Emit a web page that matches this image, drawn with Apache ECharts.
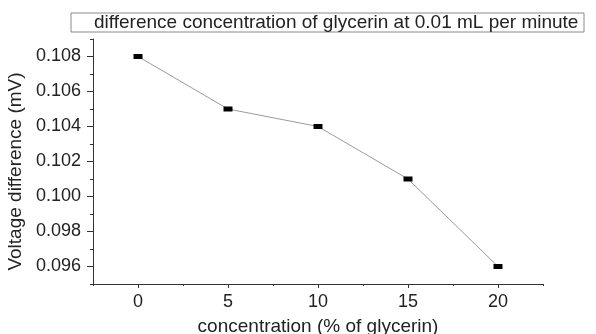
<!DOCTYPE html>
<html>
<head>
    <meta charset="UTF-8">
    <title>difference concentration of glycerin</title>
    <script src="https://cdn.jsdelivr.net/npm/echarts@6/dist/echarts.min.js"></script>
    <style>
        html, body { margin: 0; padding: 0; background: #fff; }
        #main { width: 596px; height: 334px; }
    </style>
</head>
<body>
    <div id="main"></div>
    <script type="text/javascript">
        // data
        var concentration = [0, 5, 10, 15, 20];
        var voltageDiff = [0.108, 0.105, 0.104, 0.101, 0.096];

        // ticks
        var xMajor = [0, 5, 10, 15, 20];
        var xMinor = [-2.5, 2.5, 7.5, 12.5, 17.5, 22.5];
        var yMajor = [0.096, 0.098, 0.100, 0.102, 0.104, 0.106, 0.108];
        var yMinor = [0.095, 0.097, 0.099, 0.101, 0.103, 0.105, 0.107, 0.109];

        var font = 'Liberation Sans, Arial, sans-serif';
        var ink = '#222';
        var axisColor = '#333';

        var chart = echarts.init(document.getElementById('main'));

        var option = {
            animation: false,
            title: {
                text: 'difference concentration of glycerin at 0.01 mL per minute',
                left: 94,
                top: 13,
                padding: 0,
                textStyle: { fontFamily: font, fontSize: 19, fontWeight: 'normal', color: ink, lineHeight: 19 }
            },
            graphic: [{
                type: 'rect',
                shape: { x: 71, y: 13, width: 513, height: 19 },
                style: { fill: 'none', stroke: '#8a8a8a', lineWidth: 1 },
                silent: true
            }],
            grid: { left: 93, right: 53, top: 39, bottom: 50, outerBoundsMode: 'none', containLabel: false },
            xAxis: [{
                type: 'value',
                min: -2.5,
                max: 22.5,
                name: 'concentration (% of glycerin)',
                nameLocation: 'middle',
                nameGap: 33,
                nameTextStyle: { fontFamily: font, fontSize: 19, color: ink },
                axisLine: { show: true, onZero: false, lineStyle: { color: axisColor, width: 1 } },
                axisTick: { show: true, customValues: xMajor, length: 4, lineStyle: { color: axisColor } },
                axisLabel: { customValues: xMajor, margin: 9, fontFamily: font, fontSize: 18, color: ink },
                splitLine: { show: false }
            }, {
                type: 'value',
                min: -2.5,
                max: 22.5,
                position: 'bottom',
                axisLine: { show: false, onZero: false },
                axisTick: { show: true, customValues: xMinor, length: 2, lineStyle: { color: axisColor } },
                axisLabel: { show: false },
                splitLine: { show: false }
            }],
            yAxis: [{
                type: 'value',
                min: 0.095,
                max: 0.109,
                name: 'Voltage difference (mV)',
                nameLocation: 'middle',
                nameGap: 65,
                nameTextStyle: { fontFamily: font, fontSize: 19, color: ink, padding: [0, 20, 0, 0] },
                axisLine: { show: true, onZero: false, lineStyle: { color: axisColor, width: 1 } },
                axisTick: { show: true, customValues: yMajor, length: 6, lineStyle: { color: axisColor } },
                axisLabel: {
                    customValues: yMajor,
                    margin: 12,
                    fontFamily: font,
                    fontSize: 18,
                    color: ink,
                    formatter: function (v) { return v.toFixed(3); }
                },
                splitLine: { show: false }
            }, {
                type: 'value',
                min: 0.095,
                max: 0.109,
                position: 'left',
                axisLine: { show: false, onZero: false },
                axisTick: { show: true, customValues: yMinor, length: 3, lineStyle: { color: axisColor } },
                axisLabel: { show: false },
                splitLine: { show: false }
            }],
            series: [{
                type: 'line',
                xAxisIndex: 0,
                yAxisIndex: 0,
                data: concentration.map(function (c, i) { return [c, voltageDiff[i]]; }),
                symbol: 'rect',
                symbolSize: [9, 5],
                itemStyle: { color: '#000' },
                lineStyle: { color: '#9a9a9a', width: 1 }
            }]
        };

        chart.setOption(option);
    </script>
</body>
</html>
